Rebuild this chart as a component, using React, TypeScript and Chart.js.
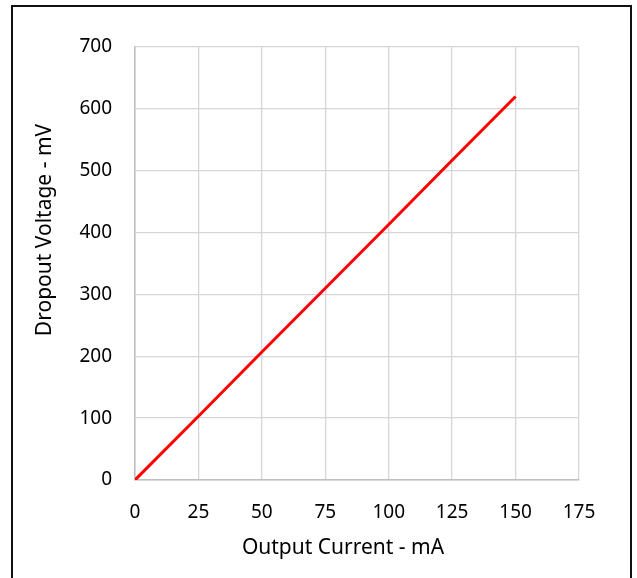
import React, { useEffect, useRef } from "react";
import { Chart, registerables } from "chart.js";

Chart.register(...registerables);

const currents = [0, 25, 50, 75, 100, 125, 150];
const dropout = [0, 103, 207, 310, 413, 517, 620];
const xTicks = [0, 25, 50, 75, 100, 125, 150, 175];
const yTicks = [0, 100, 200, 300, 400, 500, 600, 700];
const xTitle = "Output Current - mA";
const yTitle = "Dropout Voltage - mV";

const FONT = "'Noto Sans', sans-serif";

const titlePlugin = {
  id: "freeTitles",
  afterDraw(chart: any) {
    const ctx = chart.ctx;
    ctx.save();
    ctx.fillStyle = "#000000";
    ctx.font = `21px ${FONT}`;
    ctx.textAlign = "center";
    ctx.textBaseline = "middle";
    ctx.fillText(xTitle, 343, 548);
    ctx.translate(45, 230);
    ctx.rotate(-Math.PI / 2);
    ctx.fillText(yTitle, 0, 0);
    ctx.restore();
  },
};

export default function App() {
  const ref = useRef<HTMLCanvasElement | null>(null);
  useEffect(() => {
    if (!ref.current) return;
    const chart = new Chart(ref.current, {
      type: "line",
      data: {
        datasets: [
          {
            data: currents.map((c, i) => ({ x: c, y: dropout[i] })),
            borderColor: "#ff0000",
            borderWidth: 3,
            pointRadius: 0,
            tension: 0,
            fill: false,
          },
        ],
      },
      options: {
        animation: false,
        responsive: false,
        devicePixelRatio: 1,
        layout: { padding: { top: 47, right: 58, left: 0, bottom: 0 } },
        plugins: { legend: { display: false }, tooltip: { enabled: false } },
        scales: {
          x: {
            type: "linear",
            min: xTicks[0],
            max: xTicks[xTicks.length - 1],
            afterFit: (s: any) => {
              s.height = 98;
            },
            afterBuildTicks: (s: any) => {
              s.ticks = xTicks.map((v) => ({ value: v }));
            },
            ticks: {
              padding: 21,
              color: "#000000",
              font: { family: FONT, size: 19 },
              maxRotation: 0,
            },
            grid: { color: "#d6d6d6", lineWidth: 1.3, drawTicks: false },
            border: { color: "#bfbfbf", width: 1.5 },
          },
          y: {
            type: "linear",
            min: yTicks[0],
            max: yTicks[yTicks.length - 1],
            afterFit: (s: any) => {
              s.width = 135;
            },
            afterBuildTicks: (s: any) => {
              s.ticks = yTicks.map((v) => ({ value: v }));
            },
            ticks: {
              padding: 23,
              color: "#000000",
              font: { family: FONT, size: 19 },
            },
            grid: { color: "#d6d6d6", lineWidth: 1.3, drawTicks: false },
            border: { color: "#bfbfbf", width: 1.5 },
          },
        },
      },
      plugins: [titlePlugin],
    });
    return () => chart.destroy();
  }, []);

  return (
    <div
      style={{
        position: "fixed",
        left: 0,
        top: 0,
        width: 637,
        height: 578,
        background: "#ffffff",
        overflow: "hidden",
      }}
    >
      <canvas ref={ref} width={637} height={578} style={{ position: "absolute", left: 0, top: 0 }} />
      <div
        style={{
          position: "absolute",
          left: 11,
          top: 5,
          width: 617,
          height: 600,
          border: "2px solid #111111",
          pointerEvents: "none",
        }}
      />
    </div>
  );
}
